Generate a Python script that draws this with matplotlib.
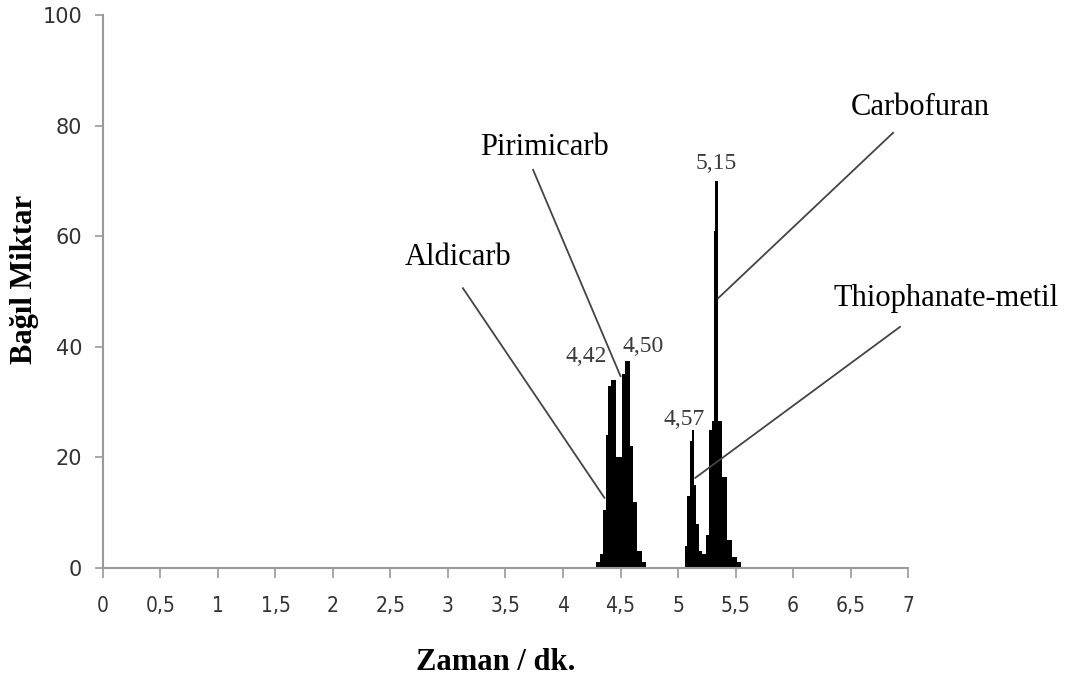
import numpy as np
import matplotlib
matplotlib.use("Agg")
import matplotlib.pyplot as plt

# step profile of the chromatogram (bin edges in minutes, heights in %)
edges_1 = [4.29, 4.32, 4.35, 4.37, 4.39, 4.42, 4.46, 4.51, 4.54, 4.58, 4.61, 4.64, 4.69, 4.72]
heights_1 = [1, 2.5, 10.5, 24, 33, 34, 20, 35, 37.5, 22, 12, 3, 1]

edges_2 = [5.06, 5.08, 5.10, 5.12, 5.14, 5.16, 5.18, 5.21, 5.24, 5.27, 5.295,
           5.31, 5.32, 5.345, 5.38, 5.43, 5.47, 5.51, 5.55]
heights_2 = [4, 13, 23, 25, 15, 8, 3, 2.5, 6, 25, 26.5, 61, 70, 26.5, 16.5, 5, 2, 1]

# peak retention time labels
peak_labels = ["4,42", "4,50", "4,57", "5,15"]
peak_label_pos = [(4.20, 38.2), (4.70, 40.0), (5.05, 26.9), (5.33, 73.2)]

# compound names with leader lines: (text, text xy, line start, line end)
compounds = ["Aldicarb", "Pirimicarb", "Carbofuran", "Thiophanate-metil"]
compound_text = [(3.09, 56.1), (3.84, 76.1), (7.11, 83.2), (7.33, 48.8)]
line_start = [(3.13, 50.6), (3.74, 72.0), (6.87, 78.7), (6.93, 43.6)]
line_end = [(4.36, 12.7), (4.50, 34.7), (5.35, 48.8), (5.15, 16.3)]

x_ticks = [0, 0.5, 1, 1.5, 2, 2.5, 3, 3.5, 4, 4.5, 5, 5.5, 6, 6.5, 7]
x_tick_labels = ["0", "0,5", "1", "1,5", "2", "2,5", "3", "3,5", "4", "4,5",
                 "5", "5,5", "6", "6,5", "7"]
y_ticks = [0, 20, 40, 60, 80, 100]

fig = plt.figure(figsize=(10.66, 6.78), dpi=100)
ax = fig.add_axes([0.0966, 0.1622, 0.7552, 0.8157])

ax.stairs(heights_1, edges_1, fill=True, color="black", baseline=0)
ax.stairs(heights_2, edges_2, fill=True, color="black", baseline=0)

for lab, (tx, ty) in zip(peak_labels, peak_label_pos):
    ax.text(tx, ty, lab, ha="center", va="center", fontsize=17,
            family="Liberation Serif", color="#3a3a3a")

for name, (tx, ty), (sx, sy), (ex, ey) in zip(compounds, compound_text, line_start, line_end):
    ax.plot([sx, ex], [sy, ey], color="#444444", lw=1.3, clip_on=False)
    ax.text(tx, ty, name, ha="center", va="center", fontsize=22,
            family="Liberation Serif", color="black", clip_on=False)

ax.set_xlim(0, 7)
ax.set_ylim(0, 100)
ax.set_xticks(x_ticks)
ax.set_xticklabels(x_tick_labels, family="DejaVu Sans", fontstretch="condensed",
                   fontsize=15, color="#333333")
ax.set_yticks(y_ticks)
ax.set_yticklabels([str(v) for v in y_ticks], family="DejaVu Sans", fontsize=15,
                   color="#333333")
ax.tick_params(axis="x", direction="out", length=7, width=1.2, color="#9a9a9a", pad=13)
ax.tick_params(axis="y", direction="out", length=6, width=1.2, color="#9a9a9a", pad=9)

for side in ["top", "right"]:
    ax.spines[side].set_visible(False)
for side in ["left", "bottom"]:
    ax.spines[side].set_color("#9a9a9a")
    ax.spines[side].set_linewidth(1.5)

ax.set_xlabel("Zaman / dk.", family="Liberation Serif", fontweight="bold", fontsize=22)
ax.set_ylabel("Bağıl Miktar", family="Liberation Serif", fontweight="bold", fontsize=22)
ax.xaxis.label.set_va("center")
ax.yaxis.label.set_va("center")
ax.xaxis.set_label_coords(0.488, -0.170)
ax.yaxis.set_label_coords(-0.098, 0.521)

fig.savefig("out.png", dpi=100)
